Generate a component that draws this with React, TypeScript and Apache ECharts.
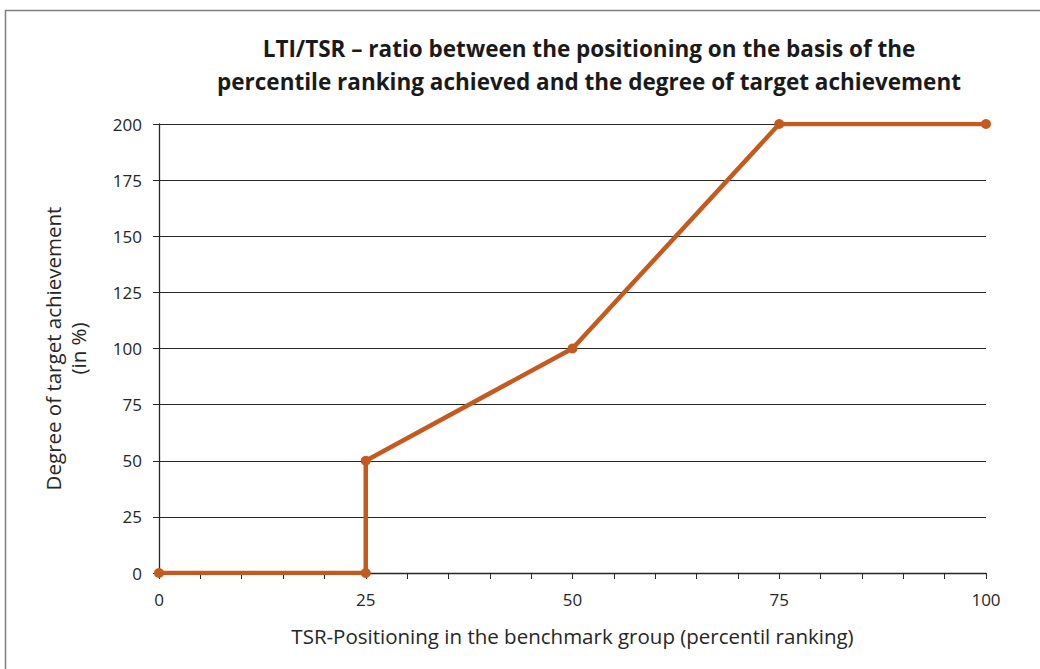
import React, { useEffect, useRef } from "react";
import * as echarts from "echarts";

const xValues = [0, 25, 25, 50, 75, 100];
const yValues = [0, 0, 50, 100, 200, 200];
const titleLines = [
  "LTI/TSR – ratio between the positioning on the basis of the",
  "percentile ranking achieved and the degree of target achievement",
];
const xName = "TSR-Positioning in the benchmark group (percentil ranking)";
const yName = "Degree of target achievement\n(in %)";

const FONT = "'Open Sans', sans-serif";

export default function App() {
  const ref = useRef<HTMLDivElement>(null);
  useEffect(() => {
    if (!ref.current) return;
    const chart = echarts.init(ref.current, undefined, { renderer: "svg" });
    chart.setOption({
      animation: false,
      backgroundColor: "#ffffff",
      textStyle: { fontFamily: FONT },
      graphic: [
        {
          type: "rect",
          shape: { x: 5.5, y: 10.5, width: 1100, height: 700 },
          style: { fill: "none", stroke: "#7f7f7f", lineWidth: 1.5 },
          silent: true,
        },
        {
          type: "text",
          x: 589,
          y: 32,
          style: {
            text: titleLines.join("\n"),
            fontFamily: FONT,
            fontWeight: "bold",
            fontSize: 22.5,
            lineHeight: 33,
            fill: "#1a1a1a",
            align: "center",
            verticalAlign: "top",
          },
        },
      ],
      grid: { left: 159, right: 54, top: 124, bottom: 96, containLabel: false },
      xAxis: {
        type: "value",
        min: 0,
        max: 100,
        interval: 25,
        name: xName,
        nameLocation: "middle",
        nameGap: 52,
        nameTextStyle: { fontSize: 20.5, color: "#262626", fontFamily: FONT },
        axisLine: { show: true, lineStyle: { color: "#262626", width: 1.3 } },
        axisTick: { show: true, inside: false, length: 6, lineStyle: { color: "#262626" } },
        minorTick: { show: true, splitNumber: 5, length: 6, lineStyle: { color: "#262626" } },
        splitLine: { show: false },
        axisLabel: { fontSize: 17, color: "#262626", margin: 18, fontFamily: FONT },
      },
      yAxis: {
        type: "value",
        min: 0,
        max: 200,
        interval: 25,
        name: yName,
        nameLocation: "middle",
        nameRotate: 90,
        nameGap: 69,
        nameTextStyle: { fontSize: 20.5, color: "#262626", lineHeight: 25, fontFamily: FONT },
        axisLine: { show: true, lineStyle: { color: "#262626", width: 1.3 } },
        axisTick: { show: true, inside: false, length: 6, lineStyle: { color: "#262626" } },
        splitLine: { show: true, lineStyle: { color: "#262626", width: 1.2 } },
        axisLabel: { fontSize: 17, color: "#262626", margin: 17, fontFamily: FONT },
      },
      series: [
        {
          type: "line",
          data: xValues.map((x, i) => [x, yValues[i]]),
          symbol: "circle",
          symbolSize: 10,
          lineStyle: { color: "#C55A1E", width: 4.5 },
          itemStyle: { color: "#C55A1E" },
          z: 5,
        },
      ],
    });
    return () => chart.dispose();
  }, []);
  return (
    <div
      ref={ref}
      style={{ position: "absolute", left: 0, top: 0, width: 1040, height: 669 }}
    />
  );
}
